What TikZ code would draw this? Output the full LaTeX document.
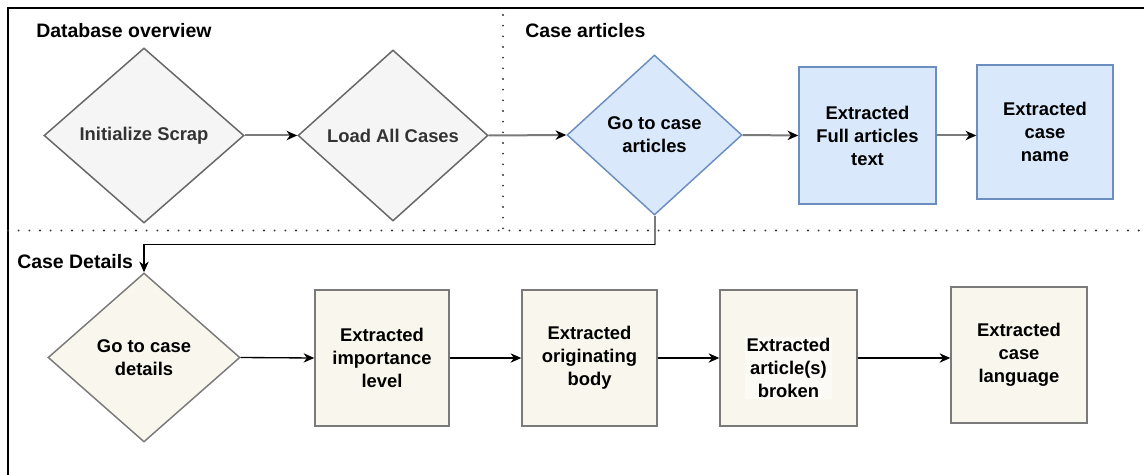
\documentclass[tikz,border=0pt]{standalone}
\usepackage{fontspec}
\setmainfont{Liberation Sans}
\usetikzlibrary{shapes.geometric,arrows.meta,calc}
\definecolor{grayfill}{HTML}{F5F5F5}
\definecolor{graystroke}{HTML}{666666}
\definecolor{graytext}{HTML}{333333}
\definecolor{bluefill}{HTML}{DAE8FC}
\definecolor{bluestroke}{HTML}{6C8EBF}
\definecolor{beigefill}{HTML}{F9F7ED}
\definecolor{beigestroke}{HTML}{7A7A7A}
\definecolor{labelfill}{HTML}{FBFAF5}
\definecolor{linkgray}{HTML}{7A7A7A}
\newcommand{\upx}[1]{#1*0.75pt}
\tikzset{
  x=0.75pt, y=-0.75pt,
  nodefont/.style={font=\bfseries\fontsize{13.8}{17.2}\selectfont, align=center},
  titlefont/.style={font=\bfseries\fontsize{14.6}{17}\selectfont, anchor=west, inner sep=0pt},
  dia/.style={diamond, nodefont, inner sep=0pt, line width=1.1pt},
  graydia/.style={dia, fill=grayfill, draw=graystroke, text=graytext},
  bluedia/.style={dia, fill=bluefill, draw=bluestroke, text=black},
  beigedia/.style={dia, fill=beigefill, draw=beigestroke, text=black},
  boxnode/.style={rectangle, nodefont, inner sep=0pt, line width=1.1pt,
    minimum width=\upx{136}, minimum height=\upx{136}},
  bluebox/.style={boxnode, fill=bluefill, draw=bluestroke},
  beigebox/.style={boxnode, fill=beigefill, draw=beigestroke},
  graylink/.style={draw=linkgray, line width=1.5pt, -{Stealth[length=8pt,width=7pt,inset=2.5pt,black]}},
  blacklink/.style={draw=black, line width=1pt, -{Stealth[length=8pt,width=7pt,inset=2.5pt]}},
  sep/.style={draw=black!80, line width=1.6pt, line cap=round, dash pattern=on 0pt off 8pt},
}
\begin{document}
\begin{tikzpicture}
\useasboundingbox (0,0) rectangle (1144,474);
\begin{scope}
\clip (0,0) rectangle (1144,474);
\draw[line width=1.2pt, black] (8,480) -- (8,8) -- (1150,8);
\draw[sep] (8,230.5) -- (1144,230.5);
\draw[sep] (503,15) -- (503,232);
\end{scope}

\node[titlefont] (t1) at (36,31) {Database overview};
\node[titlefont] (t2) at (525,31) {Case articles};
\node[titlefont] (t3) at (17,262) {Case Details};

\node[graydia, minimum width=\upx{200}, minimum height=\upx{175}] (d1) at (144,135.5) {Initialize Scrap};
\node[graydia, minimum width=\upx{190}, minimum height=\upx{171}] (d2) at (393,135.5) {Load All Cases};
\node[bluedia, minimum width=\upx{175}, minimum height=\upx{160}] (d3) at (654.5,135) {Go to case\\articles};
\node[bluebox, minimum width=\upx{137}, minimum height=\upx{137}] (r1) at (867.5,135.5) {Extracted\\Full articles\\text};
\node[bluebox, minimum width=\upx{136}, minimum height=\upx{134}] (r2) at (1045,132) {Extracted\\case\\name};

\node[beigedia, minimum width=\upx{192}, minimum height=\upx{169}] (d4) at (144,357.5) {Go to case\\details};
\node[beigebox, minimum width=\upx{134}] (b1) at (382,358) {Extracted\\importance\\level};
\node[beigebox, minimum width=\upx{135}] (b2) at (589.5,358) {Extracted\\originating\\body};
\node[beigebox, minimum width=\upx{137},
  label={[nodefont, fill=labelfill, inner sep=1pt, yshift=-7.5pt]center:{Extracted\\article(s)\\broken}}] (b3) at (788.5,358) {};
\node[beigebox, minimum width=\upx{136}] (b4) at (1019,355) {Extracted\\case\\language};

\draw[graylink] (d1.east) -- (d2.west);
\draw[graylink] (d2.east) -- (d3.west);
\draw[graylink] (d3.east) -- (r1.west);
\draw[graylink] (r1.east) -- (r1.east -| r2.west);

\coordinate (bend) at ($(d3.south)+(0,29)$);
\draw[draw=linkgray, line width=1.5pt] (d3.south) -- (bend);
\draw[blacklink] (bend) -| (d4.north);

\draw[blacklink] (d4.east) -- (b1.west);
\draw[blacklink] (b1.east) -- (b2.west);
\draw[blacklink] (b2.east) -- (b3.west);
\draw[blacklink] (b3.east) -- (b3.east -| b4.west);
\end{tikzpicture}
\end{document}
